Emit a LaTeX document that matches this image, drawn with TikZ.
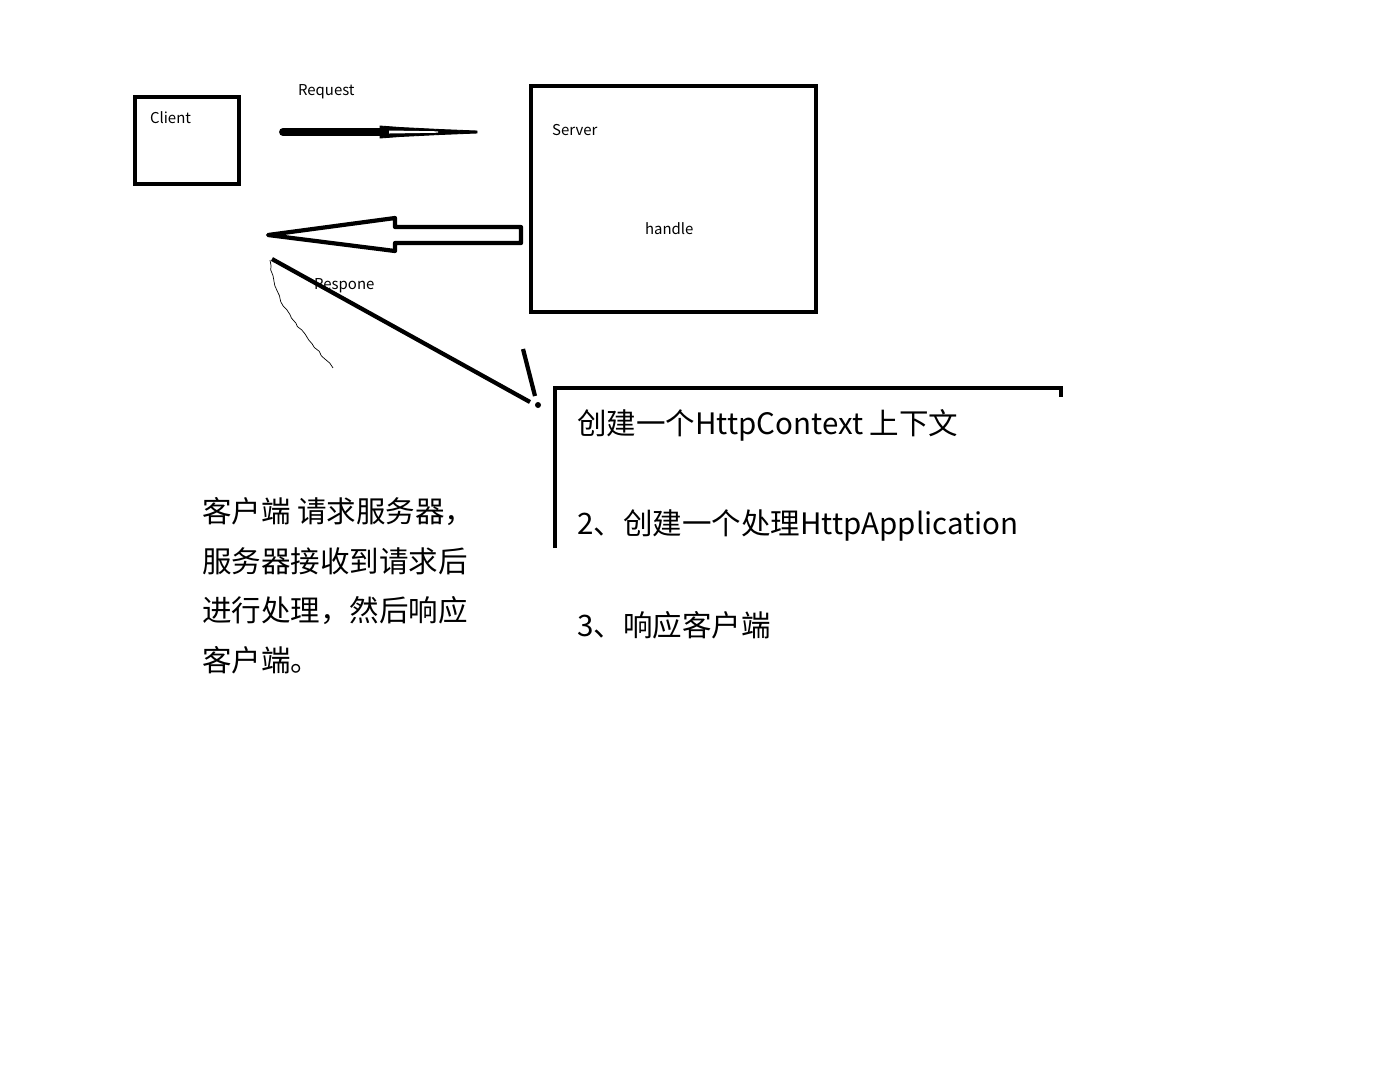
\documentclass[tikz,border=0pt]{standalone}
\usepackage{fontspec}
\setmainfont{Noto Sans CJK SC}
\usetikzlibrary{decorations.pathmorphing}
\newcommand{\sm}{\fontsize{8.5}{10}\selectfont}
\newcommand{\bg}{\fontsize{16.8}{28}\selectfont}

\begin{document}
\begin{tikzpicture}[x=0.02cm, y=-0.02cm, line width=2.4pt,
    lbl/.style={right, inner sep=0pt}]
    \useasboundingbox (0,0) rectangle (1388,1066);

    % 客户端
    \draw (135,97) rectangle (239,184);
    \node [lbl] (client) at (148,118) {\sm Client};

    % 请求
    \node [lbl] (req) at (296,92) {\sm Request};
    \coordinate (reqA) at (283,132);
    \coordinate (reqB) at (385,132);
    \draw [line width=4.5pt, line cap=round] (reqA) -- (reqB);
    \filldraw [line width=0.5pt] (380,126) -- (400,127.5) -- (440,129.5) -- (477,131) -- (477,133)
        -- (440,134.5) -- (400,136.5) -- (380,138) -- cycle;
    \fill [white] (389,130.5) -- (438,131.3) -- (438,132.7) -- (389,133.5) -- cycle;

    % 服务器
    \draw (531,86) rectangle (816,312);
    \node [lbl] (server) at (550,130) {\sm Server};
    \node [lbl] (handle) at (643,229) {\sm handle};

    % 响应
    \draw [line join=round] (268,235) -- (395,218) -- (395,227) -- (521,227) -- (521,243)
        -- (395,243) -- (395,251) -- cycle;
    \node [lbl] (resp) at (312,286) {\sm Respone};

    % 指向步骤
    \coordinate (lineA) at (272,259);
    \coordinate (lineB) at (530,402);
    \draw (lineA) -- (lineB);
    \draw (523,349) -- (535,396);
    \fill (538,405) circle (3);
    \draw [line width=0.4pt, decorate, decoration={random steps, segment length=3pt, amplitude=0.6pt}]
        (270,260) .. controls (272,300) and (300,330) .. (333,368);

    % 步骤
    \draw (555,548) -- (555,388) -- (1061,388) -- (1061,397);
    \node [lbl] (step1) at (575,425) {\bg 创建一个HttpContext 上下文};
    \node [lbl] (step2) at (575,525) {\bg 2、创建一个处理HttpApplication};
    \node [lbl] (step3) at (575,625) {\bg 3、响应客户端};

    % 说明
    \node [lbl] (note1) at (200,512) {\bg 客户端 请求服务器，};
    \node [lbl] (note2) at (200,561) {\bg 服务器接收到请求后};
    \node [lbl] (note3) at (200,611) {\bg 进行处理，然后响应};
    \node [lbl] (note4) at (200,660) {\bg 客户端。};
\end{tikzpicture}
\end{document}
